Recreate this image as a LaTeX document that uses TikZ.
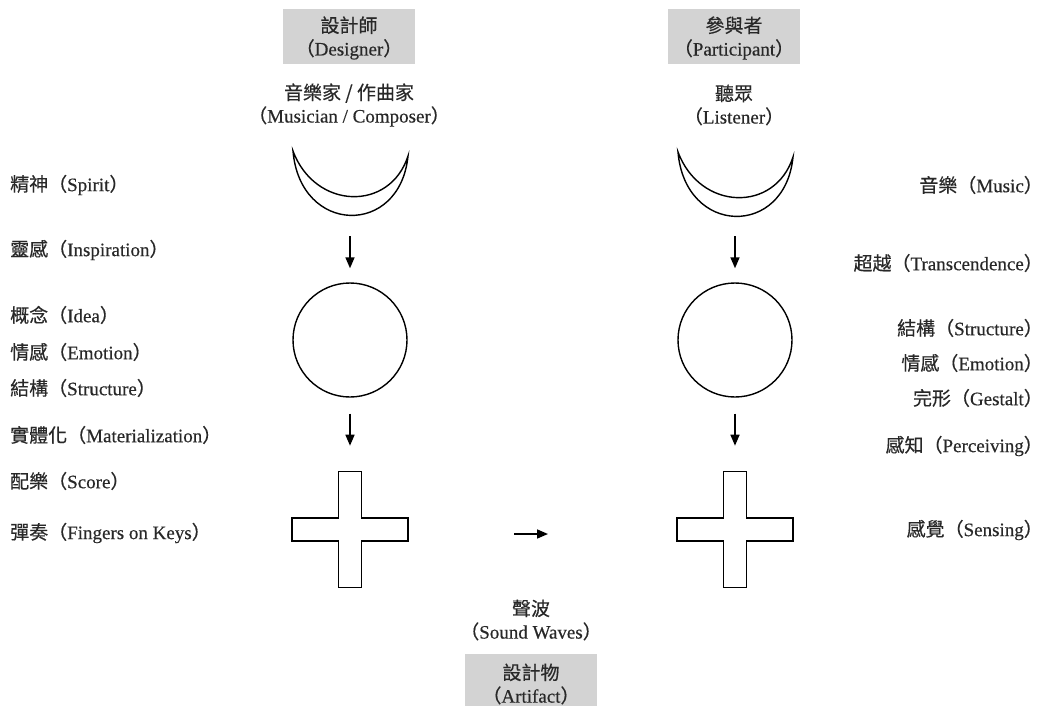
\documentclass[tikz,border=0pt]{standalone}
\usepackage{fontspec}
\setmainfont[FakeBold=0.4]{Liberation Serif}
\newfontfamily\cjk[FakeBold=0.4]{Noto Sans CJK TC}
\usetikzlibrary{arrows.meta}
\definecolor{boxgray}{RGB}{211,211,211}
\definecolor{ink}{RGB}{40,40,40}
% Chinese term followed by its English gloss in full-width parentheses
\newcommand\zhen[2]{{\cjk #1（}#2{\cjk ）}}
\newcommand\enpar[1]{{\cjk （}#1{\cjk ）}}
\tikzset{
  role/.style={fill=boxgray, minimum width=132pt, minimum height=55pt,
    align=center, inner sep=0pt},
  caption/.style={align=center, inner sep=0pt, text=ink},
  leftlab/.style={anchor=west, inner sep=0pt, text=ink},
  rightlab/.style={anchor=east, inner sep=0pt, text=ink},
  outline/.style={draw=black, line width=1.4pt, line join=miter},
  orb/.style={outline, circle, minimum size=114pt, inner sep=0pt},
  flow/.style={draw=black, line width=1.6pt, -{Triangle[length=11pt,width=9pt]}},
  crescent/.pic={
    \draw[outline] (-57,0) .. controls (-50,84) and (50,86) .. (58,5)
                          .. controls (40,61) and (-35,59) .. cycle;
  },
  plus/.pic={
    \draw[outline] (-11.5,-58) -- (11.5,-58) -- (11.5,-11.5) -- (58,-11.5)
      -- (58,11.5) -- (11.5,11.5) -- (11.5,58) -- (-11.5,58) -- (-11.5,11.5)
      -- (-58,11.5) -- (-58,-11.5) -- (-11.5,-11.5) -- cycle;
  }
}
\begin{document}
\begin{tikzpicture}[x=1pt, y=-1pt, font=\fontsize{19}{23}\selectfont]
\useasboundingbox (0,0) rectangle (1044,706);

% role headers
\node[role] (designer) at (349,36.5) {};
\node[caption] at (349,38) {{\cjk 設計師}\\\enpar{Designer}};
\node[role] (participant) at (734,36.5) {};
\node[caption] at (734,38) {{\cjk 參與者}\\\enpar{Participant}};
\node[caption] (composer) at (349,105) {{\cjk 音樂家 / 作曲家}\\\enpar{Musician / Composer}};
\node[caption] (listener) at (734,105) {{\cjk 聽眾}\\\enpar{Listener}};

% composer column
\pic at (350,151) {crescent};
\node[orb] (cL) at (350,340) {};
\pic at (350,529.5) {plus};
\draw[flow] ([yshift=46pt]cL.north) -- ([yshift=14pt]cL.north);
\draw[flow] ([yshift=-16pt]cL.south) -- ([yshift=-48pt]cL.south);

% listener column
\pic at (735,152) {crescent};
\node[orb] (cR) at (735,340) {};
\pic at (735,529.5) {plus};
\draw[flow] ([yshift=46pt]cR.north) -- ([yshift=14pt]cR.north);
\draw[flow] ([yshift=-16pt]cR.south) -- ([yshift=-48pt]cR.south);

% sound waves between the two
\coordinate (waveA) at (514,534);
\coordinate (waveB) at (548,534);
\draw[flow] (waveA) -- (waveB);
\node[caption] (waves) at (531,620) {{\cjk 聲波}\\\enpar{Sound Waves}};
\node[role] (artifact) at (531,681) {};
\node[caption] at (531,684) {{\cjk 設計物}\\\enpar{Artifact}};

% stages of the composer
\node[leftlab] (l1) at (10,185) {\zhen{精神}{Spirit}};
\node[leftlab] (l2) at (10,250) {\zhen{靈感}{Inspiration}};
\node[leftlab] (l3) at (10,315) {\zhen{概念}{Idea}};
\node[leftlab] (l4) at (10,352) {\zhen{情感}{Emotion}};
\node[leftlab] (l5) at (10,388) {\zhen{結構}{Structure}};
\node[leftlab] (l6) at (10,435) {\zhen{實體化}{Materialization}};
\node[leftlab] (l7) at (10,481) {\zhen{配樂}{Score}};
\node[leftlab] (l8) at (10,533) {\zhen{彈奏}{Fingers on Keys}};

% stages of the listener
\node[rightlab] (r1) at (1043,185) {\zhen{音樂}{Music}};
\node[rightlab] (r2) at (1043,263) {\zhen{超越}{Transcendence}};
\node[rightlab] (r3) at (1043,328) {\zhen{結構}{Structure}};
\node[rightlab] (r4) at (1043,363) {\zhen{情感}{Emotion}};
\node[rightlab] (r5) at (1043,398) {\zhen{完形}{Gestalt}};
\node[rightlab] (r6) at (1043,446) {\zhen{感知}{Perceiving}};
\node[rightlab] (r7) at (1043,530) {\zhen{感覺}{Sensing}};
\end{tikzpicture}
\end{document}
